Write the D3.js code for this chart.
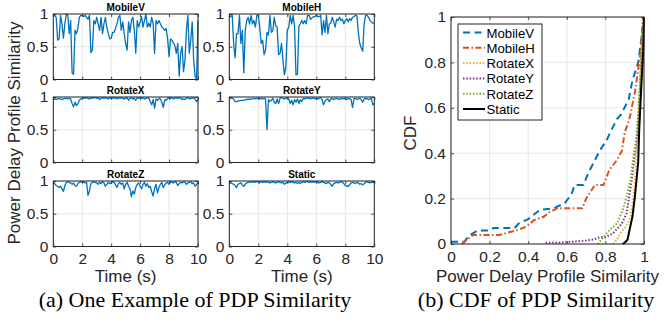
<!DOCTYPE html>
<html><head><meta charset="utf-8">
<script src="https://cdn.jsdelivr.net/npm/d3@7"></script>
<style>body{margin:0;background:#fff;} svg{display:block}</style>
</head><body>
<svg id="c" width="665" height="323"></svg>
<script>
// ---------- DATA ----------
const timeStep = 0.1;   // seconds between samples
const mobileV = [1.0,0.98,0.95,0.6,0.62,0.98,0.85,0.63,0.85,1.0,
0.98,0.7,0.9,0.1,0.08,0.75,0.7,0.78,0.95,0.98,
0.98,0.96,0.98,0.95,0.92,0.98,0.41,0.45,0.9,0.85,
0.95,0.85,0.75,0.95,0.7,0.85,0.95,0.8,0.7,0.62,
0.63,0.72,0.72,0.78,0.85,0.95,0.98,0.75,0.88,0.7,
0.55,0.45,0.88,0.72,0.9,0.95,0.75,0.4,0.9,0.8,
0.88,0.96,0.8,0.9,1.0,0.8,0.86,0.8,0.95,0.85,
0.4,0.9,0.85,0.9,0.85,0.8,0.78,0.75,0.78,0.62,
0.35,0.62,0.6,0.56,0.52,0.4,0.55,0.05,0.4,0.5,
0.12,0.3,0.75,0.98,0.4,0.6,0.88,0.3,0.05,0.0,
0.9];
const mobileH = [0.95,0.96,0.98,0.55,0.33,0.7,0.7,0.98,0.55,0.75,
0.1,0.75,0.9,0.95,0.85,0.98,0.85,0.9,0.8,0.98,
0.98,0.8,0.55,0.6,0.38,0.45,0.72,0.68,0.98,0.72,
0.74,0.95,0.82,0.8,0.38,0.4,0.55,0.3,0.07,0.18,
0.75,0.8,0.98,0.85,0.98,0.82,0.07,0.08,0.82,0.85,
0.9,0.85,0.9,0.85,0.98,0.98,0.92,0.94,0.96,0.96,
0.98,0.96,0.96,0.98,0.68,0.9,0.72,0.98,0.7,0.85,
0.86,0.95,0.88,0.8,0.92,0.9,0.95,0.9,0.92,0.85,
0.9,0.93,0.88,0.93,0.9,0.95,0.96,0.98,0.97,0.72,
0.55,0.48,0.43,0.85,0.98,0.98,0.95,0.9,0.88,0.86,
0.86];
const rotateX = [0.99,0.97,0.96,0.97,0.98,0.97,0.96,0.97,0.98,0.98,
0.97,0.98,0.97,0.90,0.85,0.92,0.87,0.90,0.95,0.97,
0.98,0.99,0.98,0.99,0.98,0.97,0.99,0.98,0.99,0.99,
0.98,0.99,0.96,0.98,0.99,0.98,0.99,0.98,0.97,0.99,
0.98,0.99,0.98,0.99,0.97,0.99,0.98,0.99,0.98,0.97,
0.98,0.99,0.95,0.98,0.99,0.97,0.98,0.95,0.99,0.98,
0.99,0.98,0.99,0.97,0.98,0.99,0.98,0.93,0.88,0.96,
0.83,0.97,0.95,0.98,0.97,0.92,0.84,0.96,0.95,0.98,
0.99,0.98,0.99,0.97,0.98,0.99,0.98,0.99,0.98,0.96,
0.97,0.96,0.98,0.99,0.97,0.98,0.99,0.98,0.97,0.93,
0.96];
const rotateY = [0.99,0.99,0.98,0.97,0.93,0.93,0.94,0.94,0.95,0.95,
0.95,0.96,0.96,0.97,0.96,0.97,0.97,0.98,0.97,0.98,
0.98,0.97,0.98,0.97,0.98,0.97,0.50,0.96,0.93,0.95,
0.98,0.92,0.90,0.97,0.90,0.98,0.99,0.98,0.97,0.98,
0.99,0.97,0.90,0.95,0.88,0.96,0.92,0.97,0.90,0.96,
0.93,0.98,0.97,0.98,0.99,0.98,0.97,0.98,0.99,0.97,
0.98,0.97,0.98,0.99,0.96,0.88,0.94,0.96,0.97,0.93,
0.97,0.98,0.96,0.97,0.98,0.97,0.96,0.98,0.97,0.98,
0.97,0.96,0.98,0.97,0.96,0.84,0.97,0.98,0.96,0.97,
0.98,0.96,0.92,0.97,0.98,0.97,0.96,0.97,0.98,0.88,
0.90];
const rotateZ = [0.98,0.96,0.93,0.92,0.90,0.92,0.88,0.84,0.93,0.98,
0.99,0.98,0.97,0.95,0.97,0.93,0.92,0.96,0.98,0.99,
0.98,0.99,0.97,0.98,0.78,0.85,0.96,0.98,0.99,0.98,
0.97,0.95,0.98,0.96,0.99,0.97,0.92,0.95,0.98,0.96,
0.97,0.99,0.98,0.94,0.90,0.96,0.98,0.95,0.97,0.88,
0.95,0.98,0.92,0.88,0.76,0.85,0.80,0.90,0.95,0.97,
0.92,0.88,0.95,0.98,0.92,0.96,0.90,0.92,0.84,0.77,
0.88,0.95,0.82,0.90,0.95,0.98,0.90,0.94,0.97,0.98,
0.95,0.99,0.98,0.97,0.99,0.98,0.93,0.96,0.98,0.97,
0.99,0.98,0.95,0.97,0.98,0.99,0.96,0.97,0.92,0.95,
0.97];
const staticSeries = [0.98,0.97,0.96,0.95,0.93,0.90,0.95,0.96,0.97,0.94,
0.92,0.95,0.97,0.98,0.98,0.99,0.98,0.99,0.98,0.99,
0.99,0.98,0.99,0.98,0.99,0.98,0.99,0.98,0.97,0.98,
0.99,0.98,0.97,0.98,0.99,0.98,0.97,0.98,0.95,0.97,
0.98,0.99,0.98,0.99,0.98,0.97,0.98,0.96,0.98,0.96,
0.98,0.99,0.98,0.99,0.99,0.98,0.99,0.98,0.99,0.98,
0.99,0.98,0.97,0.98,0.99,0.98,0.97,0.96,0.98,0.97,
0.95,0.92,0.96,0.97,0.98,0.97,0.98,0.99,0.98,0.96,
0.93,0.92,0.92,0.94,0.97,0.98,0.97,0.96,0.98,0.97,
0.95,0.96,0.94,0.96,0.98,0.99,0.98,0.97,0.98,0.98,
0.98];

const panelNames = ["MobileV","MobileH","RotateX","RotateY","RotateZ","Static"];
const timeTicks = [0,2,4,6,8,10];
const simTicks = [0,0.5,1];
const cdfTicks = [0,0.2,0.4,0.6,0.8,1];

// CDF curves (x = similarity, y = CDF)
const cdfMobileVX = [0,0.07,0.09,0.14,0.2,0.22,0.33,0.35,0.40,0.46,0.53,0.59,0.625,0.64,0.686,0.71,0.737,0.77,0.807,0.83,0.86,0.88,0.92,0.94,0.97,0.99,1.0];
const cdfMobileVY = [0.01,0.01,0.035,0.06,0.06,0.07,0.07,0.09,0.11,0.15,0.157,0.18,0.22,0.26,0.26,0.31,0.355,0.41,0.458,0.5,0.55,0.57,0.634,0.72,0.80,0.93,1.0];
const cdfMobileHX = [0.055,0.1,0.115,0.25,0.34,0.39,0.43,0.48,0.51,0.55,0.68,0.70,0.746,0.79,0.82,0.86,0.885,0.9,0.927,0.953,0.97,0.983,0.995];
const cdfMobileHY = [0,0.03,0.04,0.04,0.06,0.076,0.105,0.12,0.14,0.157,0.157,0.2,0.26,0.26,0.326,0.37,0.41,0.49,0.56,0.67,0.77,0.85,1.0];
const cdfRotateXX = [0.84,0.86,0.88,0.91,0.93,0.945,0.955,0.965,0.975,0.985,0.99,1.0];
const cdfRotateXY = [0,0.02,0.05,0.08,0.12,0.2,0.3,0.45,0.6,0.8,0.9,1.0];
const cdfRotateYX = [0.49,0.55,0.70,0.74,0.77,0.80,0.84,0.885,0.91,0.936,0.962,0.975,0.985,0.995,1.0];
const cdfRotateYY = [0.005,0.005,0.015,0.02,0.03,0.03,0.047,0.09,0.135,0.28,0.46,0.6,0.78,0.95,1.0];
const cdfRotateZX = [0.76,0.79,0.82,0.86,0.89,0.91,0.93,0.945,0.96,0.97,0.98,0.99,1.0];
const cdfRotateZY = [0,0.03,0.06,0.09,0.15,0.21,0.28,0.385,0.46,0.58,0.72,0.88,1.0];
const cdfStaticX = [0.89,0.905,0.915,0.927,0.94,0.953,0.97,0.975,0.98,0.987,0.996,1.0];
const cdfStaticY = [0,0.01,0.02,0.07,0.12,0.21,0.36,0.5,0.59,0.71,0.85,1.0];

// ---------- DRAWING ----------
const svg = d3.select("#c");
const FONT = "'Liberation Sans', Arial, Helvetica, sans-serif";
const AX = "#262626", GRID = "#e0e0e0";
const TICKFS = 15.5, LABFS = 17;

function frame(xs, ys, xTicks, yTicks) {
  const [x0,x1] = xs.range(), [y0,y1] = ys.range(); // y0 bottom, y1 top
  const g = svg.append("g");
  g.selectAll(".gx").data(xTicks).enter().append("line")
    .attr("x1",d=>xs(d)).attr("x2",d=>xs(d)).attr("y1",y0).attr("y2",y1)
    .attr("stroke",GRID).attr("stroke-width",0.8);
  g.selectAll(".gy").data(yTicks).enter().append("line")
    .attr("y1",d=>ys(d)).attr("y2",d=>ys(d)).attr("x1",x0).attr("x2",x1)
    .attr("stroke",GRID).attr("stroke-width",0.8);
  return g;
}

function axes(xs, ys, xTicks, yTicks, xFmt, yFmt, showXLabels, xPad, yPad) {
  const [x0,x1] = xs.range(), [y0,y1] = ys.range();
  const g = svg.append("g");
  g.append("g").attr("transform",`translate(${x0},0)`)
    .call(d3.axisLeft(ys).tickValues(yTicks).tickFormat(yFmt).tickSizeInner(-3).tickSizeOuter(0).tickPadding(yPad));
  g.append("g").attr("transform",`translate(${x1},0)`)
    .call(d3.axisRight(ys).tickValues(yTicks).tickFormat("").tickSizeInner(-3).tickSizeOuter(0));
  g.append("g").attr("transform",`translate(0,${y0})`)
    .call(d3.axisBottom(xs).tickValues(xTicks).tickFormat(showXLabels ? xFmt : "").tickSizeInner(-3).tickSizeOuter(0).tickPadding(xPad));
  g.append("g").attr("transform",`translate(0,${y1})`)
    .call(d3.axisTop(xs).tickValues(xTicks).tickFormat("").tickSizeInner(-3).tickSizeOuter(0));
  g.selectAll(".domain").remove();
  g.selectAll(".tick line").attr("stroke",AX).attr("stroke-width",0.8);
  g.selectAll(".tick text").attr("fill",AX).style("font-family",FONT).style("font-size",TICKFS+"px");
  g.append("rect").attr("x",x0).attr("y",y1).attr("width",x1-x0).attr("height",y0-y1)
    .attr("fill","none").attr("stroke",AX).attr("stroke-width",1);
}

// --- left: six time-series panels ---
const series = [mobileV, mobileH, rotateX, rotateY, rotateZ, staticSeries];
const colL = [53.3, 229.3], colW = [144.7, 145];
const rowT = [14, 97, 181], rowH = 65.5;
const simFmt = d => d===0.5 ? "0.5" : d3.format("d")(d);

series.forEach((vals, k) => {
  const c = k % 2, r = Math.floor(k / 2);
  const xs = d3.scaleLinear().domain([0,10]).range([colL[c], colL[c]+colW[c]]);
  const ys = d3.scaleLinear().domain([0,1]).range([rowT[r]+rowH, rowT[r]]);
  frame(xs, ys, timeTicks, simTicks);
  const line = d3.line().x((d,i)=>xs(i*timeStep)).y(d=>ys(d));
  svg.append("path").datum(vals).attr("d",line).attr("fill","none")
    .attr("stroke","#0072BD").attr("stroke-width",1.3).attr("stroke-linejoin","round");
  axes(xs, ys, timeTicks, simTicks, d3.format("d"), simFmt, r===2, 6, 5);
  svg.append("text").attr("x",(colL[c]+colL[c]+colW[c])/2).attr("y",rowT[r]-3.5)
    .attr("text-anchor","middle").style("font-family",FONT).style("font-size","10px")
    .style("font-weight","bold").attr("fill","#000").text(panelNames[k]);
});

[0,1].forEach(c=>{
  svg.append("text").attr("x",colL[c]+colW[c]/2).attr("y",281.5).attr("text-anchor","middle")
    .style("font-family",FONT).style("font-size",LABFS+"px").attr("fill",AX).text("Time (s)");
});
svg.append("text").attr("transform","translate(20,133) rotate(-90)").attr("text-anchor","middle")
  .style("font-family",FONT).style("font-size",LABFS+"px").attr("fill",AX).text("Power Delay Profile Similarity");

// --- right: CDF ---
const cx = d3.scaleLinear().domain([0,1]).range([451, 644]);
const cy = d3.scaleLinear().domain([0,1]).range([244, 17]);
frame(cx, cy, cdfTicks, cdfTicks);
const cdfFmt = d => (d===0||d===1) ? String(d) : d3.format(".1f")(d);
const cdfData = [
  {name:"MobileV", xs:cdfMobileVX, ys:cdfMobileVY},
  {name:"MobileH", xs:cdfMobileHX, ys:cdfMobileHY},
  {name:"RotateX", xs:cdfRotateXX, ys:cdfRotateXY},
  {name:"RotateY", xs:cdfRotateYX, ys:cdfRotateYY},
  {name:"RotateZ", xs:cdfRotateZX, ys:cdfRotateZY},
  {name:"Static",  xs:cdfStaticX,  ys:cdfStaticY}
];
const styles = {
  MobileV:{color:"#0072BD", dash:"7,4.5", w:2},
  MobileH:{color:"#D95319", dash:"6,2.5,1.5,2.5", w:2},
  RotateX:{color:"#EDB120", dash:"1.5,1.8", w:2},
  RotateY:{color:"#7E2F8E", dash:"1.5,1.8", w:2},
  RotateZ:{color:"#77AC30", dash:"1.5,1.8", w:2},
  Static:{color:"#000000", dash:null, w:2}
};
const cline = d3.line().x(d=>cx(d[0])).y(d=>cy(d[1]));
cdfData.forEach(s=>{
  const st = styles[s.name];
  const pts = s.xs.map((v,i)=>[v, s.ys[i]]);
  svg.append("path").datum(pts).attr("d",cline).attr("fill","none")
    .attr("stroke",st.color).attr("stroke-width",st.w)
    .attr("stroke-dasharray",st.dash);
});
axes(cx, cy, cdfTicks, cdfTicks, cdfFmt, cdfFmt, true, 7, 5);
svg.append("text").attr("x",(451+644)/2).attr("y",281.5).attr("text-anchor","middle")
  .style("font-family",FONT).style("font-size",LABFS+"px").attr("fill",AX).text("Power Delay Profile Similarity");
svg.append("text").attr("transform","translate(416,133) rotate(-90)").attr("text-anchor","middle")
  .style("font-family",FONT).style("font-size",LABFS+"px").attr("fill",AX).text("CDF");

// legend
const lg = svg.append("g");
lg.append("rect").attr("x",458).attr("y",24).attr("width",84).attr("height",96)
  .attr("fill","#fff").attr("stroke",AX).attr("stroke-width",1);
cdfData.forEach((s,i)=>{
  const st = styles[s.name];
  const yy = 32.5 + i*15.3;
  lg.append("line").attr("x1",463).attr("x2",485).attr("y1",yy).attr("y2",yy)
    .attr("stroke",st.color).attr("stroke-width",st.w).attr("stroke-dasharray",st.dash);
  lg.append("text").attr("x",486.5).attr("y",yy+5).style("font-family",FONT)
    .style("font-size","13.2px").attr("fill","#000").text(s.name);
});

// captions
const CAP = "'Liberation Serif', 'Times New Roman', Times, serif";
svg.append("text").attr("x",195).attr("y",307).attr("text-anchor","middle")
  .style("font-family",CAP).style("font-size","22px").attr("fill","#000").text("(a) One Example of PDP Similarity");
svg.append("text").attr("x",536).attr("y",307).attr("text-anchor","middle")
  .style("font-family",CAP).style("font-size","22px").attr("fill","#000").text("(b) CDF of PDP Similarity");
</script>
</body></html>
